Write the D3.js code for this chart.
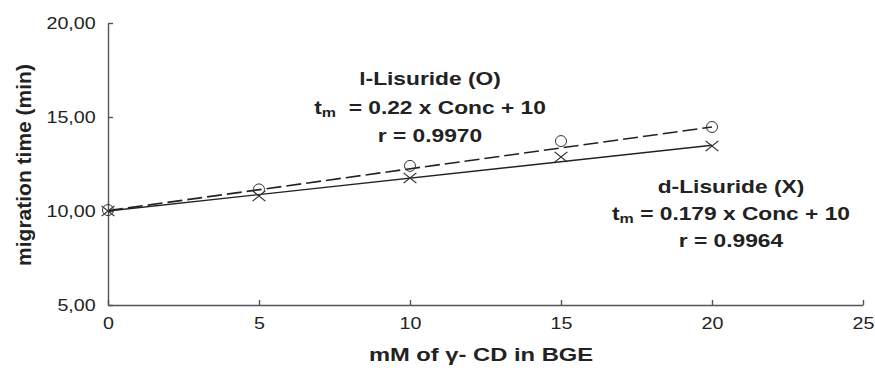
<!DOCTYPE html>
<html>
<head>
<meta charset="utf-8">
<script src="https://cdn.jsdelivr.net/npm/d3@7"></script>
<style>
  body { margin: 0; background: #fff; }
  text { font-family: "Liberation Sans", Arial, Helvetica, sans-serif; fill: #222; white-space: pre; }
  .axis path, .axis line { stroke: #555; stroke-width: 1.4; }
</style>
</head>
<body>
<svg id="chart" width="875" height="372"></svg>
<script>
// values
var conc = [0, 5, 10, 15, 20];
var lTime = [10.05, 11.15, 12.4, 13.72, 14.47];
var dTime = [10.0, 10.8, 11.76, 12.87, 13.46];
var lFit = [[0, 10.02], [20, 14.47]];
var dFit = [[0, 10.0], [20, 13.5]];

var xTicks = [0, 5, 10, 15, 20, 25];
var yTicks = [5, 10, 15, 20];
var yTickLabels = ["5,00", "10,00", "15,00", "20,00"];

var lNote = ["l-Lisuride (O)", "t_m  = 0.22 x Conc + 10", "r = 0.9970"];
var dNote = ["d-Lisuride (X)", "t_m = 0.179 x Conc + 10", "r = 0.9964"];

var xTitle = "mM of \u03b3- CD in BGE";
var yTitle = "migration time (min)";

const SX = 1.23;   // glyphs in the picture are wider than Arial

var svg = d3.select("#chart");

var x = d3.scaleLinear().domain([0, 25]).range([108, 863]);
var y = d3.scaleLinear().domain([5, 20]).range([305, 23]);

// axes, ticks pointing inward
svg.append("g")
  .attr("class", "axis")
  .attr("transform", "translate(" + x(0) + ",0)")
  .call(d3.axisLeft(y).tickValues(yTicks).tickSizeInner(-5).tickSizeOuter(0).tickPadding(10)
    .tickFormat((d, i) => yTickLabels[i]));

svg.append("g")
  .attr("class", "axis")
  .attr("transform", "translate(0," + y(5) + ")")
  .call(d3.axisBottom(x).tickValues(xTicks).tickSizeInner(-5).tickSizeOuter(0).tickPadding(13)
    .tickFormat(d3.format("d")));

svg.selectAll(".axis text")
  .attr("font-size", 16)
  .attr("font-family", null)
  .attr("fill", "#222")
  .attr("transform", "scale(" + SX + ",1)");

// fit lines
var line = d3.line().x(d => x(d[0])).y(d => y(d[1]));

svg.append("path")
  .datum(lFit)
  .attr("d", line)
  .attr("fill", "none")
  .attr("stroke", "#222")
  .attr("stroke-width", 1.6)
  .attr("stroke-dasharray", "15,5");

svg.append("path")
  .datum(dFit)
  .attr("d", line)
  .attr("fill", "none")
  .attr("stroke", "#222")
  .attr("stroke-width", 1.4);

// markers
svg.selectAll("circle.l")
  .data(conc)
  .enter()
  .append("circle")
  .attr("class", "l")
  .attr("cx", d => x(d))
  .attr("cy", (d, i) => y(lTime[i]))
  .attr("r", 5.5)
  .attr("fill", "none")
  .attr("stroke", "#333")
  .attr("stroke-width", 1);

var cross = d3.symbol().type(d3.symbolX).size(70);
svg.selectAll("path.d")
  .data(conc)
  .enter()
  .append("path")
  .attr("class", "d")
  .attr("d", cross)
  .attr("transform", (d, i) => "translate(" + x(d) + "," + y(dTime[i]) + ") scale(1.25,1)")
  .attr("fill", "none")
  .attr("stroke", "#333")
  .attr("stroke-width", 1);

// annotations
function note(lines, cx, top, gap) {
  lines.forEach((s, i) => {
    var t = svg.append("text")
      .attr("transform", "translate(" + cx + "," + (top + i * gap) + ") scale(" + SX + ",1)")
      .attr("text-anchor", "middle")
      .attr("font-size", 18.5)
      .attr("font-weight", "bold");
    var parts = s.split("_m");
    if (parts.length > 1) {
      t.append("tspan").text(parts[0]);
      t.append("tspan").attr("font-size", 13).attr("dy", 3).text("m");
      t.append("tspan").attr("dy", -3).text(parts[1]);
    } else {
      t.text(s);
    }
  });
}
note(lNote, 430, 85, 28.5);
note(dNote, 731, 193, 27);

// axis titles
svg.append("text")
  .attr("transform", "translate(481,361) scale(1.25,1)")
  .attr("text-anchor", "middle")
  .attr("font-size", 19)
  .attr("font-weight", "bold")
  .text(xTitle);

svg.append("text")
  .attr("transform", "translate(31,165) rotate(-90)")
  .attr("text-anchor", "middle")
  .attr("font-size", 21)
  .attr("font-weight", "bold")
  .text(yTitle);
</script>
</body>
</html>
